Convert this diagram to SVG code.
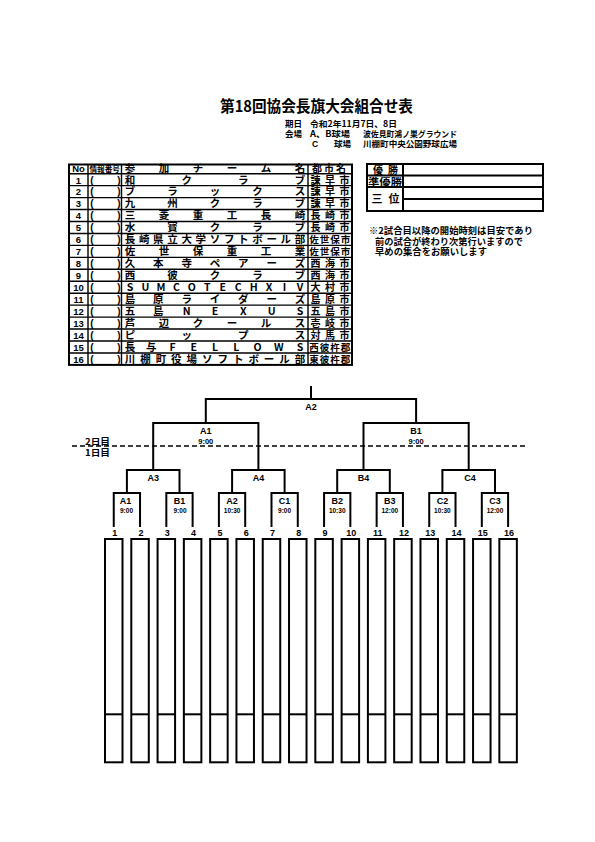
<svg xmlns="http://www.w3.org/2000/svg" width="595" height="842" viewBox="0 0 595 842">
<style>
.j{font-family:"Noto Sans CJK JP","Noto Sans",sans-serif;font-weight:700;fill:#000}
.l{font-family:"Liberation Sans",Arial,sans-serif;font-weight:700;fill:#000}
.nm{font-size:10.5px;text-anchor:middle}
.ct{font-size:10px;text-anchor:middle}
.no{font-size:9.5px;text-anchor:middle}
.pr{font-size:10px;text-anchor:middle}
.lb{font-size:9px;text-anchor:middle}
.tm{font-size:6.5px;text-anchor:middle}
.nu{font-size:9px;text-anchor:middle}
.k{stroke:#000;stroke-width:2;fill:none}
.s{stroke:#000;stroke-width:1.4;fill:none}
.box{stroke:#000;stroke-width:2;fill:#fff}
</style>
<rect width="595" height="842" fill="#fff"/>

<g id="title">
<text class="j" x="220" y="112" font-size="15.5" font-weight="900" textLength="193" lengthAdjust="spacingAndGlyphs">第18回協会長旗大会組合せ表</text>
<text class="j" x="285" y="126.5" font-size="8.5">期日</text>
<text class="j" x="310" y="126.5" font-size="8.5" textLength="87" lengthAdjust="spacingAndGlyphs">令和2年11月7日、8日</text>
<text class="j" x="285" y="136.5" font-size="8.5">会場</text>
<text class="j" x="310" y="136.5" font-size="8.5" textLength="40" lengthAdjust="spacingAndGlyphs">A、B球場</text>
<text class="j" x="363" y="136.5" font-size="8.5" textLength="94" lengthAdjust="spacingAndGlyphs">波佐見町鴻ノ巣グラウンド</text>
<text class="l" x="312" y="146.5" font-size="8.5">C</text>
<text class="j" x="334" y="146.5" font-size="8.5">球場</text>
<text class="j" x="363" y="146.5" font-size="8.5" textLength="94" lengthAdjust="spacingAndGlyphs">川棚町中央公園野球広場</text>
</g>

<g id="team-table">
<rect class="k" x="69" y="164.5" width="283" height="200.4"/>
<path class="s" d="M69 173.7H352M69 185.65H352M69 197.6H352M69 209.55H352M69 221.5H352M69 233.45H352M69 245.4H352M69 257.35H352M69 269.3H352M69 281.25H352M69 293.2H352M69 305.15H352M69 317.1H352M69 329.05H352M69 341H352M69 352.95H352"/>
<path class="s" d="M88 164.5V364.9M121.5 164.5V364.9M308 164.5V364.9"/>
<text class="l no" x="78.5" y="172">No</text>
<text class="j" x="89.5" y="171.6" font-size="7.5" textLength="30.5" lengthAdjust="spacingAndGlyphs">情報番号</text>
<text class="j nm" x="130 164 198 232 266 300" y="172.3">参加チーム名</text>
<text class="j ct" x="317 329 341" y="172.2">都市名</text>

<g class="l no">
<text x="78.5" y="183.5">1</text><text x="78.5" y="195.45">2</text><text x="78.5" y="207.4">3</text><text x="78.5" y="219.35">4</text>
<text x="78.5" y="231.3">5</text><text x="78.5" y="243.25">6</text><text x="78.5" y="255.2">7</text><text x="78.5" y="267.15">8</text>
<text x="78.5" y="279.1">9</text><text x="78.5" y="291.05">10</text><text x="78.5" y="303">11</text><text x="78.5" y="314.95">12</text>
<text x="78.5" y="326.9">13</text><text x="78.5" y="338.85">14</text><text x="78.5" y="350.8">15</text><text x="78.5" y="362.75">16</text>
</g>
<g class="l pr">
<text x="92 119" y="183.5">()</text><text x="92 119" y="195.45">()</text><text x="92 119" y="207.4">()</text><text x="92 119" y="219.35">()</text>
<text x="92 119" y="231.3">()</text><text x="92 119" y="243.25">()</text><text x="92 119" y="255.2">()</text><text x="92 119" y="267.15">()</text>
<text x="92 119" y="279.1">()</text><text x="92 119" y="291.05">()</text><text x="92 119" y="303">()</text><text x="92 119" y="314.95">()</text>
<text x="92 119" y="326.9">()</text><text x="92 119" y="338.85">()</text><text x="92 119" y="350.8">()</text><text x="92 119" y="362.75">()</text>
</g>
<g class="j nm">
<text x="130 186.67 243.33 300" y="183.5">和クラブ</text>
<text x="130 172.5 215 257.5 300" y="195.45">ブラックス</text>
<text x="130 172.5 215 257.5 300" y="207.4">九州クラブ</text>
<text x="130 164 198 232 266 300" y="219.35">三菱重工長崎</text>
<text x="130 172.5 215 257.5 300" y="231.3">水寳クラブ</text>
<text x="130 144.17 158.33 172.5 186.67 200.83 215 229.17 243.33 257.5 271.67 285.83 300" y="243.25">長崎県立大学ソフトボール部</text>
<text x="130 164 198 232 266 300" y="255.2">佐世保重工業</text>
<text x="130 158.33 186.67 215 243.33 271.67 300" y="267.15">久本寺ペアーズ</text>
<text x="130 172.5 215 257.5 300" y="279.1">西彼クラブ</text>
<text x="130 145.45 160.91 176.36 191.82 207.27 222.73 238.18 253.64 269.09 284.55 300" y="291.05">SUMCOTECHXIV</text>
<text x="130 158.33 186.67 215 243.33 271.67 300" y="303">島原ライダーズ</text>
<text x="130 158.33 186.67 215 243.33 271.67 300" y="314.95">五島NEXUS</text>
<text x="130 164 198 232 266 300" y="326.9">芦辺クールス</text>
<text x="130 186.67 243.33 300" y="338.85">ピップス</text>
<text x="130 151.25 172.5 193.75 215 236.25 257.5 278.75 300" y="350.8">長与FELLOWS</text>
<text x="130 145.45 160.91 176.36 191.82 207.27 222.73 238.18 253.64 269.09 284.55 300" y="362.75">川棚町役場ソフトボール部</text>
</g>
<g class="j ct">
<text x="315.5 330 344.5" y="183.5">諫早市</text>
<text x="315.5 330 344.5" y="195.45">諫早市</text>
<text x="315.5 330 344.5" y="207.4">諫早市</text>
<text x="315.5 330 344.5" y="219.35">長崎市</text>
<text x="315.5 330 344.5" y="231.3">長崎市</text>
<text x="314 324.5 335 345.5" y="243.25" font-size="9.5">佐世保市</text>
<text x="314 324.5 335 345.5" y="255.2" font-size="9.5">佐世保市</text>
<text x="315.5 330 344.5" y="267.15">西海市</text>
<text x="315.5 330 344.5" y="279.1">西海市</text>
<text x="315.5 330 344.5" y="291.05">大村市</text>
<text x="315.5 330 344.5" y="303">島原市</text>
<text x="315.5 330 344.5" y="314.95">五島市</text>
<text x="315.5 330 344.5" y="326.9">壱岐市</text>
<text x="315.5 330 344.5" y="338.85">対馬市</text>
<text x="314 324.5 335 345.5" y="350.8" font-size="9.5">西彼杵郡</text>
<text x="314 324.5 335 345.5" y="362.75" font-size="9.5">東彼杵郡</text>
</g>
</g>

<g id="results">
<rect class="k" x="367" y="164" width="176" height="47"/>
<path class="k" d="M403 164V211M367 175.5H543M367 187H543M403 199H543"/>
<text class="j" x="378 393" y="174" font-size="10" text-anchor="middle">優勝</text>
<text class="j" x="368" y="185.5" font-size="10" textLength="34" lengthAdjust="spacingAndGlyphs">準優勝</text>
<text class="j" x="377 394" y="203" font-size="11" text-anchor="middle">三位</text>
</g>

<g id="note">
<text class="j" x="369" y="233.5" font-size="9.3" textLength="164" lengthAdjust="spacingAndGlyphs">※2試合目以降の開始時刻は目安であり</text>
<text class="j" x="375" y="244.5" font-size="9.3" textLength="148" lengthAdjust="spacingAndGlyphs">前の試合が終わり次第行いますので</text>
<text class="j" x="375" y="255" font-size="9.3" textLength="112" lengthAdjust="spacingAndGlyphs">早めの集合をお願いします</text>
</g>

<g id="day-divider">
<line x1="72" y1="446" x2="527" y2="446" stroke="#000" stroke-width="1.6" stroke-dasharray="5,3"/>
<text class="j" x="85" y="445" font-size="9" textLength="25" lengthAdjust="spacingAndGlyphs">2日目</text>
<text class="j" x="85" y="455.5" font-size="9" textLength="25" lengthAdjust="spacingAndGlyphs">1日目</text>
</g>

<g id="connectors" class="k">
<path d="M311 386V399M205.8 423V399H416.1V423"/>
<path d="M153.2 470V423H258.4V470M363.5 470V423H468.7V470"/>
<path d="M126.9 493V470H179.5V493M232.1 493V470H284.6V493M337.2 493V470H389.8V493M442.4 493V470H495V493"/>
<path d="M113.75 527V493H140.04V527M166.33 527V493H192.62V527M218.91 527V493H245.2V527M271.49 527V493H297.78V527M324.07 527V493H350.36V527M376.65 527V493H402.94V527M429.23 527V493H455.52V527M481.81 527V493H508.1V527"/>
</g>

<g id="match-labels">
<g id="m-final"><text class="l lb" x="311" y="409.5">A2</text></g>
<g id="m-semi-a"><text class="l lb" x="205.8" y="434">A1</text><text class="l" x="205.8" y="444" font-size="7.5" text-anchor="middle">9:00</text></g>
<g id="m-semi-b"><text class="l lb" x="416.1" y="434">B1</text><text class="l" x="416.1" y="444" font-size="7.5" text-anchor="middle">9:00</text></g>
<g id="m-q1"><text class="l lb" x="153.2" y="481">A3</text></g>
<g id="m-q2"><text class="l lb" x="258.4" y="481">A4</text></g>
<g id="m-q3"><text class="l lb" x="363.5" y="481">B4</text></g>
<g id="m-q4"><text class="l" x="470" y="481" font-size="9" font-weight="400" text-anchor="middle">C4</text></g>
<g id="m-r1"><text class="l lb" x="125.5" y="503.5">A1</text><text class="l tm" x="126.5" y="513">9:00</text></g>
<g id="m-r2"><text class="l lb" x="179.5" y="503.5">B1</text><text class="l tm" x="180" y="513">9:00</text></g>
<g id="m-r3"><text class="l lb" x="232.1" y="503.5">A2</text><text class="l tm" x="232.1" y="513">10:30</text></g>
<g id="m-r4"><text class="l lb" x="284.6" y="503.5">C1</text><text class="l tm" x="284.6" y="513">9:00</text></g>
<g id="m-r5"><text class="l lb" x="337.2" y="503.5">B2</text><text class="l tm" x="337.2" y="513">10:30</text></g>
<g id="m-r6"><text class="l lb" x="389.8" y="503.5">B3</text><text class="l tm" x="389.8" y="513">12:00</text></g>
<g id="m-r7"><text class="l lb" x="442.4" y="503.5">C2</text><text class="l tm" x="442.4" y="513">10:30</text></g>
<g id="m-r8"><text class="l lb" x="495" y="503.5">C3</text><text class="l tm" x="495" y="513">12:00</text></g>
</g>

<g id="slots">
<g class="l nu">
<text x="114.75" y="536">1</text><text x="141.04" y="536">2</text><text x="167.33" y="536">3</text><text x="193.62" y="536">4</text>
<text x="219.91" y="536">5</text><text x="246.2" y="536">6</text><text x="272.49" y="536">7</text><text x="298.78" y="536">8</text>
<text x="325.07" y="536">9</text><text x="351.36" y="536">10</text><text x="377.65" y="536">11</text><text x="403.94" y="536">12</text>
<text x="430.23" y="536">13</text><text x="456.52" y="536">14</text><text x="482.81" y="536">15</text><text x="509.1" y="536">16</text>
</g>
<g id="slot1"><rect class="box" x="105" y="539" width="17.5" height="223.3"/><line class="k" x1="105" y1="714.3" x2="122.5" y2="714.3"/></g>
<g id="slot2"><rect class="box" x="131.29" y="539" width="17.5" height="223.3"/><line class="k" x1="131.29" y1="714.3" x2="148.79" y2="714.3"/></g>
<g id="slot3"><rect class="box" x="157.58" y="539" width="17.5" height="223.3"/><line class="k" x1="157.58" y1="714.3" x2="175.08" y2="714.3"/></g>
<g id="slot4"><rect class="box" x="183.87" y="539" width="17.5" height="223.3"/><line class="k" x1="183.87" y1="714.3" x2="201.37" y2="714.3"/></g>
<g id="slot5"><rect class="box" x="210.16" y="539" width="17.5" height="223.3"/><line class="k" x1="210.16" y1="714.3" x2="227.66" y2="714.3"/></g>
<g id="slot6"><rect class="box" x="236.45" y="539" width="17.5" height="223.3"/><line class="k" x1="236.45" y1="714.3" x2="253.95" y2="714.3"/></g>
<g id="slot7"><rect class="box" x="262.74" y="539" width="17.5" height="223.3"/><line class="k" x1="262.74" y1="714.3" x2="280.24" y2="714.3"/></g>
<g id="slot8"><rect class="box" x="289.03" y="539" width="17.5" height="223.3"/><line class="k" x1="289.03" y1="714.3" x2="306.53" y2="714.3"/></g>
<g id="slot9"><rect class="box" x="315.32" y="539" width="17.5" height="223.3"/><line class="k" x1="315.32" y1="714.3" x2="332.82" y2="714.3"/></g>
<g id="slot10"><rect class="box" x="341.61" y="539" width="17.5" height="223.3"/><line class="k" x1="341.61" y1="714.3" x2="359.11" y2="714.3"/></g>
<g id="slot11"><rect class="box" x="367.9" y="539" width="17.5" height="223.3"/><line class="k" x1="367.9" y1="714.3" x2="385.4" y2="714.3"/></g>
<g id="slot12"><rect class="box" x="394.19" y="539" width="17.5" height="223.3"/><line class="k" x1="394.19" y1="714.3" x2="411.69" y2="714.3"/></g>
<g id="slot13"><rect class="box" x="420.48" y="539" width="17.5" height="223.3"/><line class="k" x1="420.48" y1="714.3" x2="437.98" y2="714.3"/></g>
<g id="slot14"><rect class="box" x="446.77" y="539" width="17.5" height="223.3"/><line class="k" x1="446.77" y1="714.3" x2="464.27" y2="714.3"/></g>
<g id="slot15"><rect class="box" x="473.06" y="539" width="17.5" height="223.3"/><line class="k" x1="473.06" y1="714.3" x2="490.56" y2="714.3"/></g>
<g id="slot16"><rect class="box" x="499.35" y="539" width="17.5" height="223.3"/><line class="k" x1="499.35" y1="714.3" x2="516.85" y2="714.3"/></g>
</g>
</svg>
